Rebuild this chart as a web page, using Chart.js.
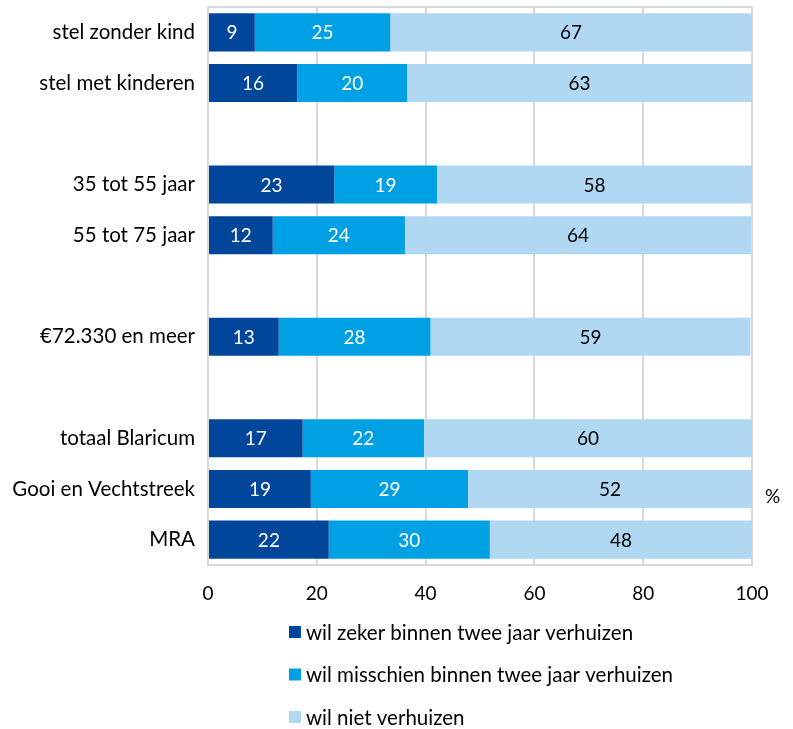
<!DOCTYPE html>
<html><head><meta charset="utf-8">
<script src="https://cdn.jsdelivr.net/npm/chart.js@4"></script>
<style>html,body{margin:0;padding:0;background:#fff}#wrap{width:793px;height:729px;position:relative}</style>
</head><body><div id="wrap"><canvas id="c" width="793" height="729"></canvas></div>
<script>
const categories = ['stel zonder kind','stel met kinderen','','35 tot 55 jaar','55 tot 75 jaar','','€72.330 en meer','','totaal Blaricum','Gooi en Vechtstreek','MRA'];
const zeker = [8.6,16.4,null,23.2,11.9,null,13.0,null,17.4,18.9,22.2];
const misschien = [24.9,20.2,null,18.9,24.3,null,27.9,null,22.3,28.9,29.6];
const niet = [66.5,63.4,null,57.9,63.6,null,58.8,null,60.3,52.2,48.2];
const seriesNames = ['wil zeker binnen twee jaar verhuizen','wil misschien binnen twee jaar verhuizen','wil niet verhuizen'];
const xTicks = [0,20,40,60,80,100];
const colors = ['#00479b','#00a0e4','#b1d8f3'];
const labelColors = ['#ffffff','#ffffff','#000000'];
const FONT = 'Lato, "Open Sans", sans-serif';

const labelsPlugin = {
  id:'vals',
  afterDatasetsDraw(chart){
    const ctx = chart.ctx;
    ctx.save();
    ctx.font = '19px ' + FONT;
    ctx.textAlign='center'; ctx.textBaseline='middle';
    chart.data.datasets.forEach((ds,di)=>{
      const meta = chart.getDatasetMeta(di);
      meta.data.forEach((el,i)=>{
        const v = ds.data[i];
        if(v==null) return;
        const cx = (el.x + el.base)/2;
        ctx.fillStyle = labelColors[di];
        ctx.fillText(String(Math.round(v)), cx, el.y+1);
      });
    });
    ctx.restore();
  }
};
const framePlugin = {
  id:'frame',
  beforeDatasetsDraw(chart){
    const a = chart.chartArea, ctx = chart.ctx;
    ctx.save();
    ctx.strokeStyle='#d9d9d9'; ctx.lineWidth=2;
    ctx.strokeRect(a.left, a.top, a.right-a.left, a.bottom-a.top);
    ctx.restore();
  },
  afterDraw(chart){
    const a = chart.chartArea, ctx = chart.ctx;
    ctx.save();
    ctx.font = '19px ' + FONT; ctx.fillStyle='#000';
    ctx.textAlign='left'; ctx.textBaseline='middle';
    ctx.fillText('%', 765, 497);
    chart.data.datasets.forEach((ds,i)=>{
      const y = 632 + i*42.5;
      ctx.fillStyle = ds.backgroundColor;
      ctx.fillRect(289, y-6, 12, 12);
      ctx.fillStyle='#000';
      ctx.font = '20.5px ' + FONT;
      ctx.fillText(ds.label, 306, y+1);
    });
    ctx.restore();
  }
};

new Chart(document.getElementById('c'), {
  type:'bar',
  data:{
    labels: categories,
    datasets:[
      {label:seriesNames[0], data:zeker, backgroundColor:colors[0]},
      {label:seriesNames[1], data:misschien, backgroundColor:colors[1]},
      {label:seriesNames[2], data:niet, backgroundColor:colors[2]}
    ]
  },
  options:{
    indexAxis:'y',
    responsive:false,
    animation:false,
    layout:{padding:{top:7,right:41,bottom:124,left:0}},
    datasets:{bar:{barPercentage:0.75,categoryPercentage:1}},
    plugins:{legend:{display:false},tooltip:{enabled:false}},
    scales:{
      x:{
        stacked:true, min:0, max:100,
        afterBuildTicks(s){ s.ticks = xTicks.map(v=>({value:v})); },
        afterFit(s){ s.height = 40; s.paddingLeft = 0; s.paddingRight = 0; },
        grid:{color:'#d9d9d9', lineWidth:2, drawTicks:false},
        border:{display:false},
        ticks:{font:{size:19,family:FONT}, color:'#000', padding:17, maxRotation:0}
      },
      y:{
        stacked:true,
        afterFit(s){ s.width = 208; s.paddingTop = 0; s.paddingBottom = 0; },
        grid:{display:false, drawTicks:false},
        border:{display:false},
        ticks:{font:{size:20.5,family:FONT}, color:'#000', padding:13, autoSkip:false}
      }
    }
  },
  plugins:[labelsPlugin, framePlugin]
});
</script></body></html>
